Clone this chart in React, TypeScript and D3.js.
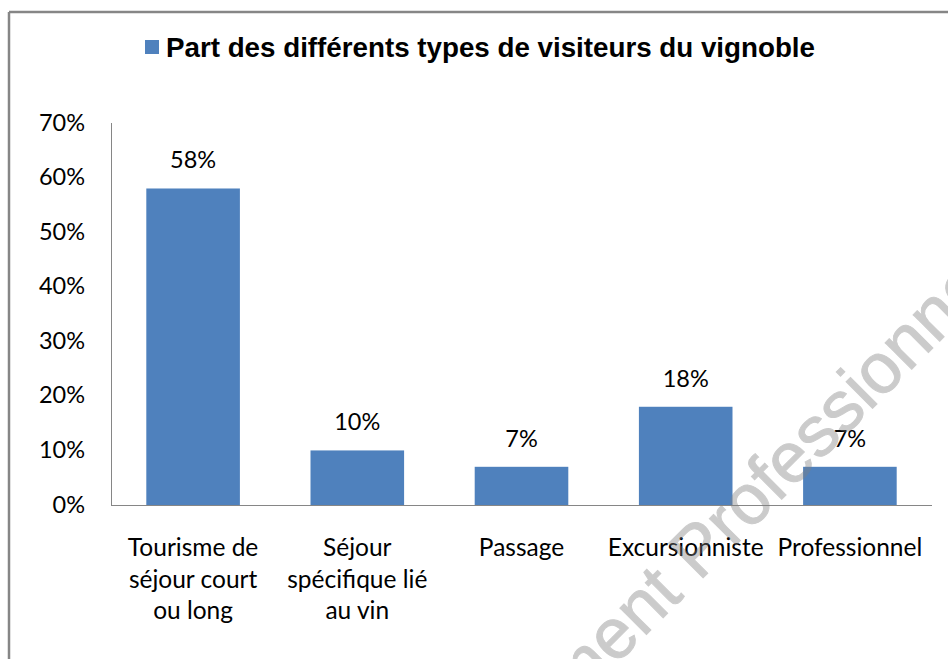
import React from "react";
import * as d3 from "d3";

const categories: string[][] = [
  ["Tourisme de", "séjour court", "ou long"],
  ["Séjour", "spécifique lié", "au vin"],
  ["Passage"],
  ["Excursionniste"],
  ["Professionnel"],
];
const values: number[] = [0.58, 0.1, 0.07, 0.18, 0.07];
const yTicks: number[] = [0, 0.1, 0.2, 0.3, 0.4, 0.5, 0.6, 0.7];
const title = "Part des différents types de visiteurs du vignoble";
const watermarkLeft = "Document";
const watermarkRight = "Professionnel";

const W = 948;
const H = 659;
const BAR = "#4f81bd";
const AXIS = "#868686";
const FONT = "Lato, 'Noto Sans', sans-serif";

export default function App() {
  const x = d3
    .scaleBand<number>()
    .domain(d3.range(values.length))
    .range([111, 932])
    .paddingInner(0.43)
    .paddingOuter(0.215);
  const y = d3.scaleLinear().domain([0, 0.7]).range([505, 123]);
  const fmt = d3.format(".0%");

  return (
    <svg
      width={W}
      height={H}
      style={{ position: "absolute", left: 0, top: 0, background: "#fff" }}
    >
      <rect x={0} y={0} width={W} height={H} fill="#fff" />
      {/* outer border */}
      <line x1={9} y1={12} x2={W} y2={12} stroke={AXIS} strokeWidth={2.5} />
      <line x1={9} y1={12} x2={9} y2={H} stroke={AXIS} strokeWidth={2.5} />

      {/* title with legend key */}
      <rect x={145} y={40} width={14} height={14} fill={BAR} />
      <text
        x={166}
        y={57}
        fontFamily="'Liberation Sans', Arial, sans-serif"
        fontWeight="bold"
        fontSize={28}
        textLength={649}
        lengthAdjust="spacingAndGlyphs"
        fill="#000"
      >
        {title}
      </text>

      {/* y tick labels */}
      {yTicks.map((t) => (
        <text
          key={t}
          x={85}
          y={y(t) + 7.5}
          textAnchor="end"
          fontFamily={FONT}
          fontSize={23.5}
          fill="#000"
        >
          {fmt(t)}
        </text>
      ))}

      {/* bars */}
      {values.map((v, i) => (
        <rect
          key={i}
          x={x(i)!}
          y={y(v)}
          width={x.bandwidth()}
          height={y(0) - y(v)}
          fill={BAR}
        />
      ))}

      {/* axes */}
      <line x1={111.5} y1={123} x2={111.5} y2={505} stroke={AXIS} strokeWidth={1} />
      <line x1={111} y1={505.5} x2={932} y2={505.5} stroke={AXIS} strokeWidth={1} />

      {/* data labels */}
      {values.map((v, i) => (
        <text
          key={i}
          x={x(i)! + x.bandwidth() / 2}
          y={y(v) - 20}
          textAnchor="middle"
          fontFamily={FONT}
          fontSize={23.5}
          fill="#000"
        >
          {fmt(v)}
        </text>
      ))}

      {/* category labels */}
      {categories.map((lines, i) => (
        <text
          key={i}
          x={x(i)! + x.bandwidth() / 2}
          y={556}
          textAnchor="middle"
          fontFamily={FONT}
          fontSize={24.5}
          fill="#000"
        >
          {lines.map((l, j) => (
            <tspan key={j} x={x(i)! + x.bandwidth() / 2} dy={j === 0 ? 0 : 31.5}>
              {l}
            </tspan>
          ))}
        </text>
      ))}

      {/* watermark */}
      <g
        transform="translate(699,582) rotate(-45)"
        fontFamily="'Liberation Sans', Arial, sans-serif"
        fontSize={71}
        fill="#808080"
        stroke="#808080"
        strokeWidth={1}
        opacity={0.4}
      >
        <text x={-20} y={0} textAnchor="end">
          {watermarkLeft}
        </text>
        <text x={0} y={0}>
          {watermarkRight}
        </text>
      </g>
    </svg>
  );
}
